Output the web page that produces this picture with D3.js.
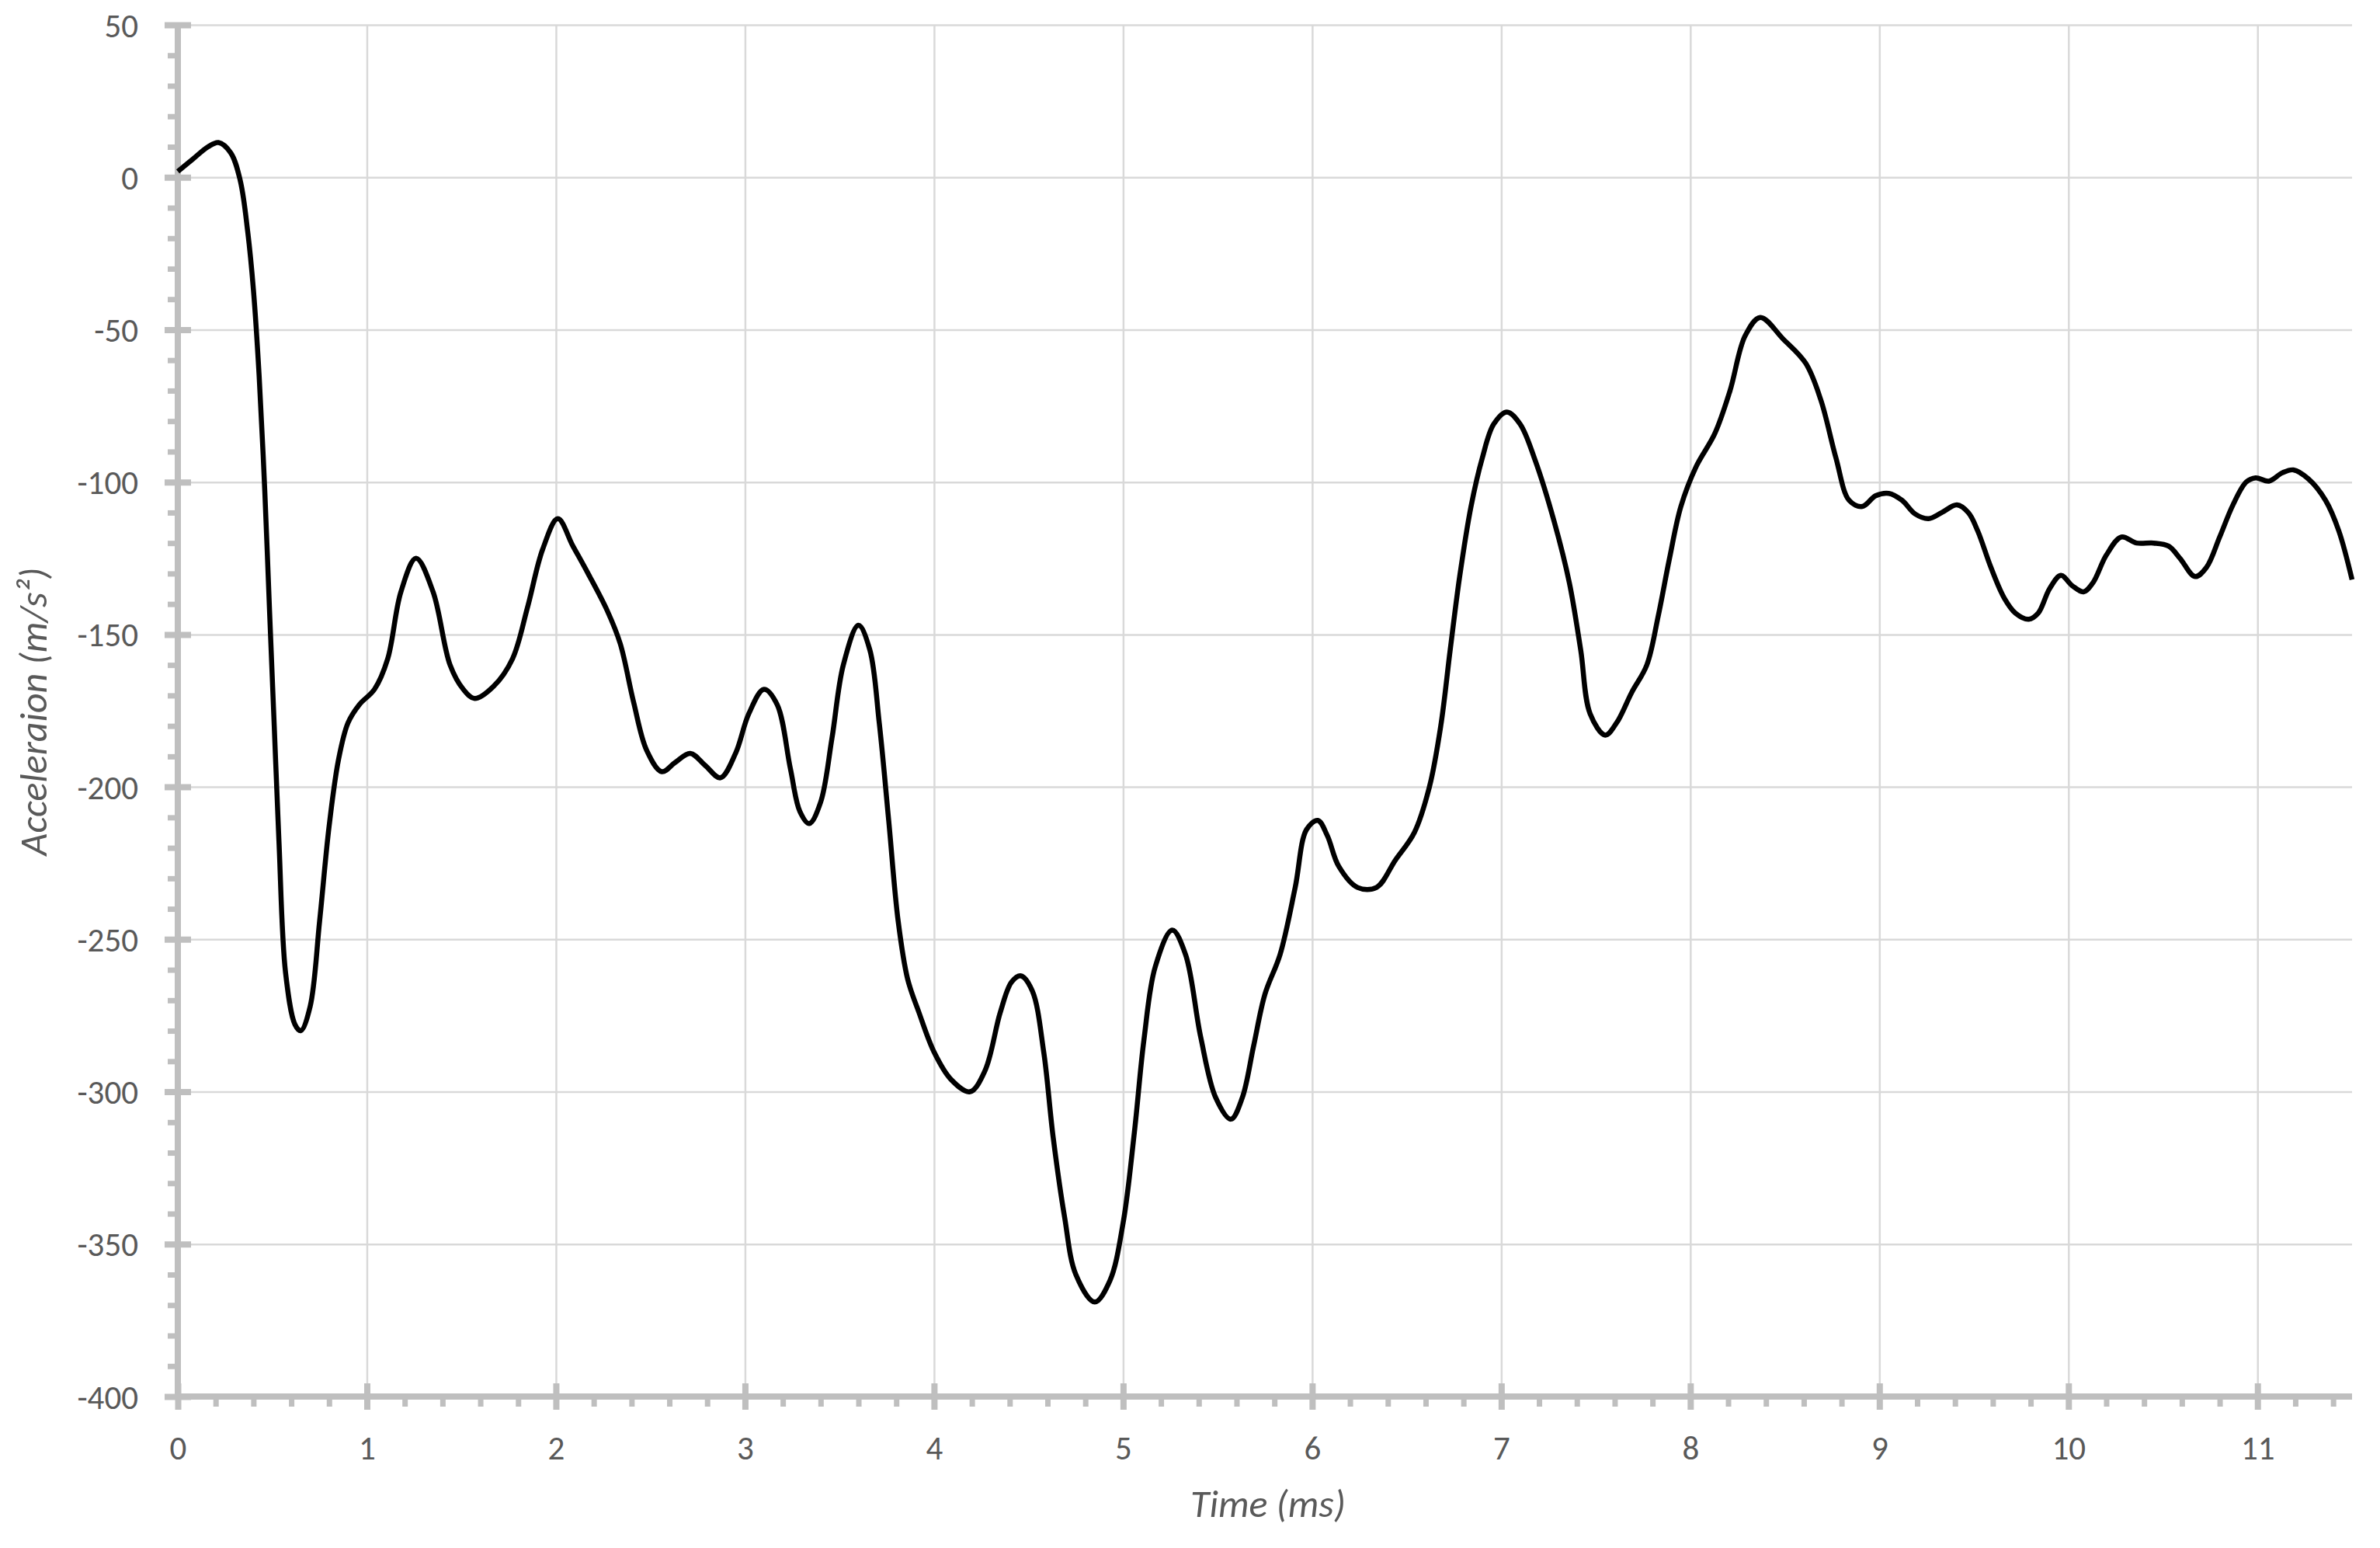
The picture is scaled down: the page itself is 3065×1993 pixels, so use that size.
<!DOCTYPE html>
<html>
<head>
<meta charset="utf-8">
<script src="https://cdn.jsdelivr.net/npm/d3@7"></script>
<style>
body { margin: 0; background: #ffffff; }
text { font-family: Calibri, Carlito, "Open Sans", sans-serif; fill: #595959; }
</style>
</head>
<body>
<div id="chart"></div>
<script>

// time samples (ms)
const timeMs = [
0, 0.08, 0.16, 0.215, 0.28, 0.33, 0.37, 0.40, 0.43, 0.46, 0.485, 0.51, 0.535, 0.57, 0.62, 0.65,
0.70, 0.75, 0.80, 0.85, 0.90, 0.96, 1.04, 1.11, 1.18, 1.26, 1.35, 1.44, 1.51, 1.57, 1.67, 1.77,
1.85, 1.93, 2.01, 2.09, 2.17, 2.27, 2.34, 2.41, 2.48, 2.56, 2.63, 2.71, 2.79, 2.87, 2.95,
3.02, 3.10, 3.17, 3.24, 3.29, 3.34, 3.40, 3.46, 3.52, 3.60, 3.66, 3.71, 3.76, 3.81, 3.86, 3.92,
4.00, 4.09, 4.19, 4.27, 4.35, 4.41, 4.46, 4.52, 4.58, 4.63, 4.69, 4.75, 4.85, 4.93,
5.00, 5.06, 5.11, 5.17, 5.26, 5.33, 5.41, 5.49, 5.57, 5.63, 5.69, 5.75, 5.83, 5.91, 5.97,
6.03, 6.08, 6.14, 6.24, 6.34, 6.44, 6.54, 6.62, 6.68, 6.73, 6.78, 6.84, 6.90, 6.96,
7.03, 7.10, 7.18, 7.28, 7.36, 7.42, 7.47, 7.55, 7.61, 7.69, 7.77, 7.83, 7.89, 7.95,
8.03, 8.13, 8.21, 8.29, 8.37, 8.49, 8.61, 8.69, 8.77, 8.84, 8.91, 8.98,
9.05, 9.12, 9.19, 9.26, 9.33, 9.41, 9.47, 9.52, 9.59, 9.66, 9.72, 9.79, 9.84, 9.90, 9.96,
10.02, 10.08, 10.13, 10.20, 10.28, 10.36, 10.45, 10.53, 10.59, 10.67, 10.73, 10.80, 10.87, 10.94, 10.99,
11.06, 11.13, 11.19, 11.27, 11.36, 11.43, 11.5
];

// acceleration (m/s²) at each sample
const accel = [
1.9, 6, 10, 11.4, 8, -1, -18, -37, -65, -103, -142, -180, -218, -261, -278, -280,
-272, -244, -213, -191, -179, -173, -168, -158, -136, -125, -136, -160, -168, -171, -167, -158,
-141, -122, -112, -121, -130, -142, -153, -172, -188, -195, -192, -189, -193, -197, -189,
-176, -168, -173, -194, -208, -212, -205, -184, -160, -147, -155, -179, -211, -244, -263, -274,
-287, -296, -300, -293, -274, -264, -262, -267, -287, -315, -341, -360, -369, -362,
-343, -313, -283, -259, -247, -255, -282, -302, -309, -302, -285, -268, -255, -233, -214,
-211, -216, -226, -233, -233, -224, -215, -200, -180, -155, -131, -108, -92, -81,
-77, -81, -93, -113, -133, -155, -176, -183, -179, -169, -160, -144, -125, -108,
-95, -84, -70, -52, -46, -53, -61, -73, -92, -106, -108, -104.5,
-103.7, -106, -110.5, -112, -110, -107.5, -110, -116, -128, -138, -143, -145, -143, -135, -130.6,
-134, -136, -133, -124, -118, -120, -120, -121, -125, -131, -128, -118, -107.5, -100, -98.6,
-99.7, -97, -96, -99, -106, -116, -132
];

const yTickValues = [50, 0, -50, -100, -150, -200, -250, -300, -350, -400];
const xTickValues = [0, 1, 2, 3, 4, 5, 6, 7, 8, 9, 10, 11];
const xTitle = "Time (ms)";
const yTitle = "Acceleraion (m/s²)";

//////////////////////////////////////////////////////////////////////////////

const svgWidth = 3065,
svgHeight = 1993;

const margin = {
top: 32,
right: 36,
bottom: 195,
left: 229
};

const width = svgWidth - margin.left - margin.right;
const height = svgHeight - margin.top - margin.bottom;

const axisColor = "#bfbfbf";
const gridColor = "#d9d9d9";

const svg = d3.select("#chart")
.append("svg")
.attr("width", svgWidth)
.attr("height", svgHeight);

const chartGroup = svg.append("g")
.attr("transform", `translate(${margin.left}, ${margin.top})`);

const xScale = d3.scaleLinear()
.domain([0, 11.5])
.range([0, width]);

const yScale = d3.scaleLinear()
.domain([-400, 50])
.range([height, 0]);

// plain hyphen for negatives, like the original
const plainNum = d => String(d);

//////////////////////////////////////////////////////////////////////////////
// gridlines

const yGrid = chartGroup.append("g")
.call(d3.axisLeft(yScale).tickValues(yTickValues).tickSize(-width).tickFormat(""));
yGrid.select(".domain").remove();
yGrid.selectAll("line").attr("stroke", gridColor).attr("stroke-width", 2.5);

const xGrid = chartGroup.append("g")
.attr("transform", `translate(0, ${height})`)
.call(d3.axisBottom(xScale).tickValues(xTickValues.filter(d => d > 0)).tickSize(-height).tickFormat(""));
xGrid.select(".domain").remove();
xGrid.selectAll("line").attr("stroke", gridColor).attr("stroke-width", 2.5);

//////////////////////////////////////////////////////////////////////////////
// minor ticks (every 10 on y, every 0.2 on x), outside only

const yMinor = d3.range(-390, 50, 10).filter(d => d % 50 !== 0);
const xMinor = d3.range(1, 58).map(d => d / 5).filter(d => Math.abs(d - Math.round(d)) > 1e-6);

const yMinorAxis = chartGroup.append("g")
.call(d3.axisLeft(yScale).tickValues(yMinor).tickSize(13).tickFormat(""));
yMinorAxis.select(".domain").remove();
yMinorAxis.selectAll("line").attr("stroke", axisColor).attr("stroke-width", 7);

const xMinorAxis = chartGroup.append("g")
.attr("transform", `translate(0, ${height})`)
.call(d3.axisBottom(xScale).tickValues(xMinor).tickSize(13).tickFormat(""));
xMinorAxis.select(".domain").remove();
xMinorAxis.selectAll("line").attr("stroke", axisColor).attr("stroke-width", 7);

//////////////////////////////////////////////////////////////////////////////
// main axes, major ticks cross the line

const yAxis = chartGroup.append("g")
.call(d3.axisLeft(yScale).tickValues(yTickValues).tickSize(17).tickPadding(34).tickFormat(plainNum));
yAxis.select(".domain")
.attr("d", `M0,${height + 3}V${-3}`)
.attr("stroke", axisColor)
.attr("stroke-width", 8);
yAxis.selectAll(".tick line")
.attr("x1", 17)
.attr("stroke", axisColor)
.attr("stroke-width", 8);
yAxis.selectAll(".tick text")
.style("font-size", "43px")
.attr("fill", "#595959")
.attr("dy", "0.35em");

const xAxis = chartGroup.append("g")
.attr("transform", `translate(0, ${height})`)
.call(d3.axisBottom(xScale).tickValues(xTickValues).tickSize(17).tickFormat(plainNum));
xAxis.select(".domain")
.attr("d", `M-3,0H${width}`)
.attr("stroke", axisColor)
.attr("stroke-width", 8);
xAxis.selectAll(".tick line")
.attr("y1", -17)
.attr("stroke", axisColor)
.attr("stroke-width", 8);
xAxis.selectAll(".tick text")
.style("font-size", "43px")
.attr("fill", "#595959")
.attr("y", 81)
.attr("dy", 0);

//////////////////////////////////////////////////////////////////////////////
// the trace

const points = timeMs.map((t, i) => ({t: t, a: accel[i]}));

const lineGen = d3.line()
.x(d => xScale(d.t))
.y(d => yScale(d.a))
.curve(d3.curveCatmullRom.alpha(0.5));

chartGroup.append("path")
.datum(points)
.attr("fill", "none")
.attr("stroke", "#000000")
.attr("stroke-width", 6.5)
.attr("stroke-linejoin", "round")
.attr("d", lineGen);

//////////////////////////////////////////////////////////////////////////////
// axis titles

svg.append("text")
.attr("x", 1633)
.attr("y", 1953)
.attr("text-anchor", "middle")
.style("font-size", "50px")
.style("font-style", "italic")
.text(xTitle);

svg.append("text")
.attr("transform", "translate(60, 916) rotate(-90)")
.attr("text-anchor", "middle")
.style("font-size", "50px")
.style("font-style", "italic")
.text(yTitle);

</script>
</body>
</html>
